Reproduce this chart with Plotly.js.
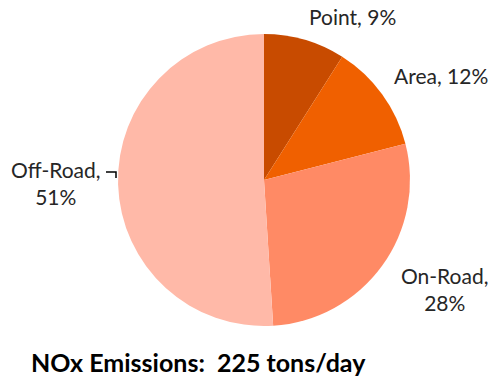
<!DOCTYPE html>
<html>
<head>
<meta charset="utf-8">
<script src="https://cdn.plot.ly/plotly-3.0.1.min.js"></script>
<style>html,body{margin:0;padding:0;background:#fff;}#chart{width:497px;height:387px;}</style>
</head>
<body>
<div id="chart"></div>
<script>
const categories = ["Point", "Area", "On-Road", "Off-Road"];
const shares = [9, 12, 28, 51];
const colors = ["#C84B00", "#F06000", "#FF8A65", "#FFB9A8"];
const labelTexts = ["Point, 9%", "Area, 12%", "On-Road,<br>28%", "Off-Road,<br>51%"];
const titleText = "NOx Emissions:  225 tons/day";

const font = "Lato, 'Open Sans', sans-serif";
const labelPos = [[352, 16], [441, 76], [444, 289], [56, 183]];

const annotations = labelTexts.map((t, i) => ({
  x: labelPos[i][0] / 497, y: 1 - labelPos[i][1] / 387,
  xref: "paper", yref: "paper", text: t, showarrow: false,
  xanchor: "center", yanchor: "middle",
  font: {family: font, size: 21, color: "#262626"}
}));
annotations.push({
  x: 198 / 497, y: 1 - 362 / 387, xref: "paper", yref: "paper",
  text: "<b>" + titleText.replace("  ", "&nbsp; ") + "</b>", showarrow: false,
  xanchor: "center", yanchor: "middle",
  font: {family: font, size: 25, color: "#000"}
});

const data = [{
  type: "pie",
  labels: categories,
  values: shares,
  sort: false,
  direction: "clockwise",
  rotation: 0,
  marker: {colors: colors, line: {width: 0}},
  textinfo: "none",
  hoverinfo: "label+percent",
  domain: {x: [(264 - 146) / 497, (264 + 146) / 497], y: [61 / 387, 353 / 387]}
}];

const layout = {
  width: 497, height: 387,
  margin: {l: 0, r: 0, t: 0, b: 0},
  paper_bgcolor: "#fff",
  showlegend: false,
  annotations: annotations,
  shapes: [{
    type: "path", xref: "paper", yref: "paper",
    path: `M ${106/497} ${1-172/387} L ${116/497} ${1-172/387} L ${116/497} ${1-178/387}`,
    line: {color: "#000", width: 1.5}
  }]
};

Plotly.newPlot("chart", data, layout, {displayModeBar: false, staticPlot: true});
</script>
</body>
</html>
